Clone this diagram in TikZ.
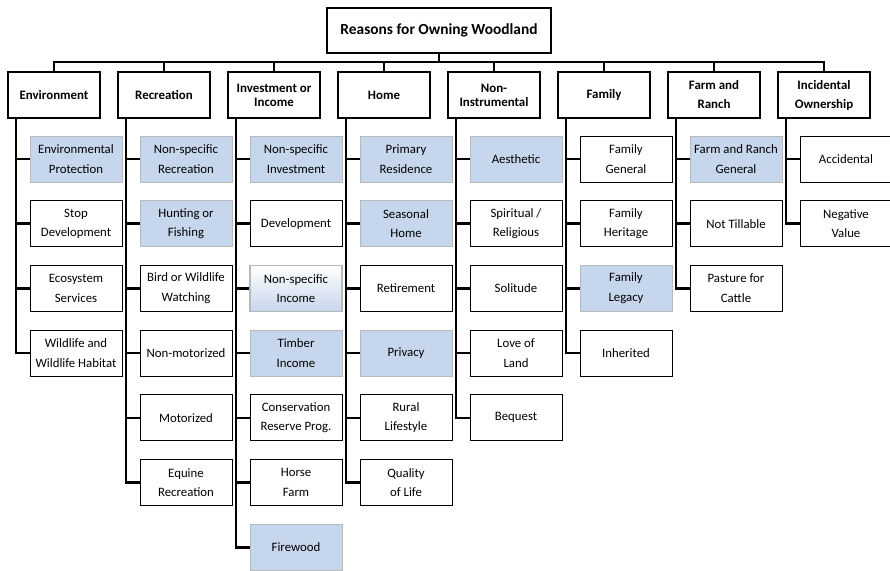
\documentclass[tikz,border=0pt]{standalone}
\usepackage{fontspec}
\setmainfont{Carlito}
\definecolor{leafblue}{RGB}{198,214,236}
\tikzset{
  head/.style={draw, line width=2.2pt, minimum width=224pt, minimum height=45pt,
    font=\bfseries\fontsize{15.4}{18}\selectfont},
  cat/.style={draw, line width=2.2pt, minimum width=92pt, minimum height=46pt,
    align=center, inner sep=1pt, font=\bfseries\fontsize{12.9}{14}\selectfont},
  leaf/.style={draw, line width=1pt, minimum width=92pt, minimum height=46pt,
    align=center, inner sep=1pt, font=\fontsize{12.8}{19.5}\selectfont},
  hilite/.style={leaf, draw=gray!55, line width=0.6pt, fill=leafblue},
  fade/.style={leaf, draw=gray!55, line width=1.2pt, top color=white, bottom color=leafblue},
  link/.style={line width=2.6pt},
}
\begin{document}
\begin{tikzpicture}[x=1pt,y=-1pt]
  \useasboundingbox (0,0) rectangle (890,570);

  \node[head] (title) at (439,30.5) {Reasons for Owning Woodland};
  \coordinate (bus) at (0,62);

  % categories
  \node[cat] (env)  at (54,95)  {Environment};
  \node[cat] (rec)  at (164,95) {Recreation};
  \node[cat] (inv)  at (274,95) {Investment or\\Income};
  \node[cat] (home) at (384,95) {Home};
  \node[cat] (non)  at (494,95) {Non-\\Instrumental};
  \node[cat] (fam)  at (604,95) {Family};
  \node[cat] (farm) at (714,95) {Farm and\\[5pt]Ranch};
  \node[cat] (inc)  at (824,95) {Incidental\\[5pt]Ownership};

  \draw[link] (title.south) -- (title.south |- bus);
  \foreach \c in {env,rec,inv,home,non,fam,farm,inc}
    \draw[link] (title.south |- bus) -| (\c.north);

  % environment
  \foreach [count=\j] \t/\s in {{Environmental\\Protection}/hilite, {Stop\\Development}/leaf,
      {Ecosystem\\Services}/leaf, {Wildlife and\\Wildlife Habitat}/leaf}
  {
    \node[\s] (env\j) at (76,{159+64.7*(\j-1)}) {\t};
    \draw[link] ([xshift=9pt]env.south west) |- (env\j.west);
  }

  % recreation
  \foreach [count=\j] \t/\s in {{Non-specific\\Recreation}/hilite, {Hunting or\\Fishing}/hilite,
      {Bird or Wildlife\\Watching}/leaf, {Non-motorized}/leaf, {Motorized}/leaf,
      {Equine\\Recreation}/leaf}
  {
    \node[\s] (rec\j) at (186,{159+64.7*(\j-1)}) {\t};
    \draw[link] ([xshift=9pt]rec.south west) |- (rec\j.west);
  }

  % investment or income
  \foreach [count=\j] \t/\s in {{Non-specific\\Investment}/hilite, {Development}/leaf,
      {Non-specific\\Income}/fade, {Timber\\Income}/hilite,
      {Conservation\\Reserve Prog.}/leaf, {Horse\\Farm}/leaf, {Firewood}/hilite}
  {
    \node[\s] (inv\j) at (296,{159+64.7*(\j-1)}) {\t};
    \draw[link] ([xshift=9pt]inv.south west) |- (inv\j.west);
  }

  % home
  \foreach [count=\j] \t/\s in {{Primary\\Residence}/hilite, {Seasonal\\Home}/hilite,
      {Retirement}/leaf, {Privacy}/hilite, {Rural\\Lifestyle}/leaf, {Quality\\of Life}/leaf}
  {
    \node[\s] (home\j) at (406,{159+64.7*(\j-1)}) {\t};
    \draw[link] ([xshift=9pt]home.south west) |- (home\j.west);
  }

  % non-instrumental
  \foreach [count=\j] \t/\s in {{Aesthetic}/hilite, {Spiritual /\\Religious}/leaf,
      {Solitude}/leaf, {Love of\\Land}/leaf, {Bequest}/leaf}
  {
    \node[\s] (non\j) at (516,{159+64.7*(\j-1)}) {\t};
    \draw[link] ([xshift=9pt]non.south west) |- (non\j.west);
  }

  % family
  \foreach [count=\j] \t/\s in {{Family\\General}/leaf, {Family\\Heritage}/leaf,
      {Family\\Legacy}/hilite, {Inherited}/leaf}
  {
    \node[\s] (fam\j) at (626,{159+64.7*(\j-1)}) {\t};
    \draw[link] ([xshift=9pt]fam.south west) |- (fam\j.west);
  }

  % farm and ranch
  \foreach [count=\j] \t/\s in {{Farm and Ranch\\General}/hilite, {Not Tillable}/leaf,
      {Pasture for\\Cattle}/leaf}
  {
    \node[\s] (farm\j) at (736,{159+64.7*(\j-1)}) {\t};
    \draw[link] ([xshift=9pt]farm.south west) |- (farm\j.west);
  }

  % incidental ownership
  \foreach [count=\j] \t/\s in {{Accidental}/leaf, {Negative\\Value}/leaf}
  {
    \node[\s] (inc\j) at (846,{159+64.7*(\j-1)}) {\t};
    \draw[link] ([xshift=9pt]inc.south west) |- (inc\j.west);
  }
\end{tikzpicture}
\end{document}
